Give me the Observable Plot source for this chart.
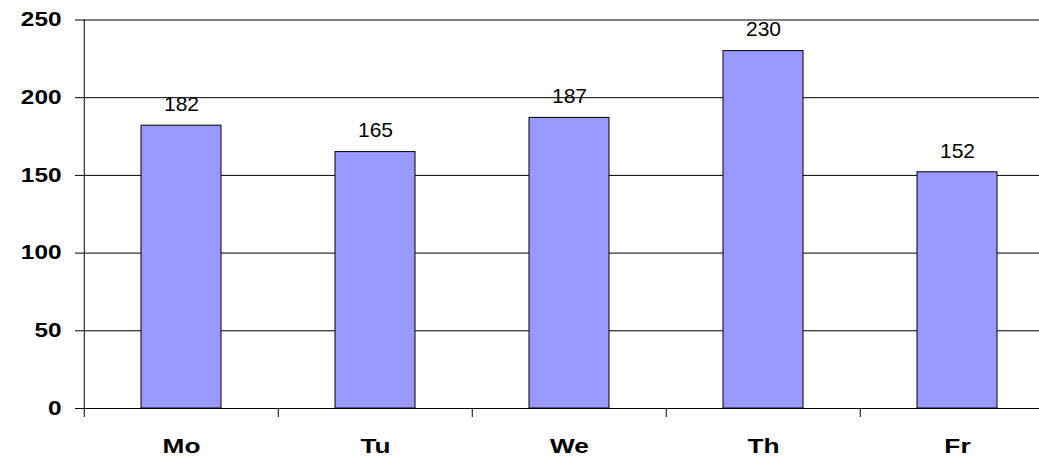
<!DOCTYPE html>
<html>
<head>
<meta charset="utf-8">
<script src="https://cdn.jsdelivr.net/npm/d3@7"></script>
<script src="https://cdn.jsdelivr.net/npm/@observablehq/plot@0.6"></script>
<style>
  html, body { margin: 0; padding: 0; background: #fff; overflow: hidden; }
</style>
</head>
<body>
<div id="chart"></div>
<script>
const days = ["Mo", "Tu", "We", "Th", "Fr"];
const values = [182, 165, 187, 230, 152];
const yTicks = [0, 50, 100, 150, 200, 250];

const data = days.map((d, i) => ({day: d, value: values[i]}));

const W = 1039, H = 461;
const mL = 83, mT = 19.5, mB = 53;
const step = 194.5;
const frameH = H - mT - mB;

const chart = Plot.plot({
  width: W,
  height: H,
  marginLeft: mL,
  marginTop: mT,
  marginBottom: mB,
  marginRight: 0,
  style: {background: "#fff", color: "#000", fontFamily: "'Liberation Sans', Arial, sans-serif"},
  x: {domain: days, range: [mL, mL + step * days.length], paddingInner: 0.59, paddingOuter: 0.295, label: null},
  y: {domain: [0, 250], label: null},
  marks: [
    Plot.ruleY(yTicks, {stroke: "#000", strokeWidth: 1}),
    Plot.barY(data, {x: "day", y: "value", fill: "#9999FF", stroke: "#000", strokeWidth: 1}),
    Plot.text(data, {x: "day", y: "value", text: d => String(d.value), dy: -21.5, lineAnchor: "middle",
      fontSize: 21, fill: "#000"}),
    // left axis line
    Plot.ruleX([days[0]], {dx: -step / 2, stroke: "#000", strokeWidth: 1}),
    // category boundary ticks
    Plot.ruleX(days, {dx: -step / 2, insetTop: frameH, insetBottom: -9, stroke: "#000", strokeWidth: 1}),
    Plot.axisY({ticks: yTicks, tickSize: 8, tickPadding: 14, fontSize: 19.5, fontWeight: "bold", label: null, stroke: "#000"}),
    Plot.axisX({tickSize: 0, tickPadding: 30, fontSize: 21, fontWeight: "bold", label: null})
  ]
});

document.getElementById("chart").appendChild(chart);

// widen the bold axis labels to match the reference's wide bold face
d3.select(chart).selectAll('g[aria-label="y-axis tick label"] text, g[aria-label="x-axis tick label"] text')
  .each(function() {
    const t = this.getAttribute("transform") || "";
    this.setAttribute("transform", t + " scale(1.25,1)");
  });
</script>
</body>
</html>
